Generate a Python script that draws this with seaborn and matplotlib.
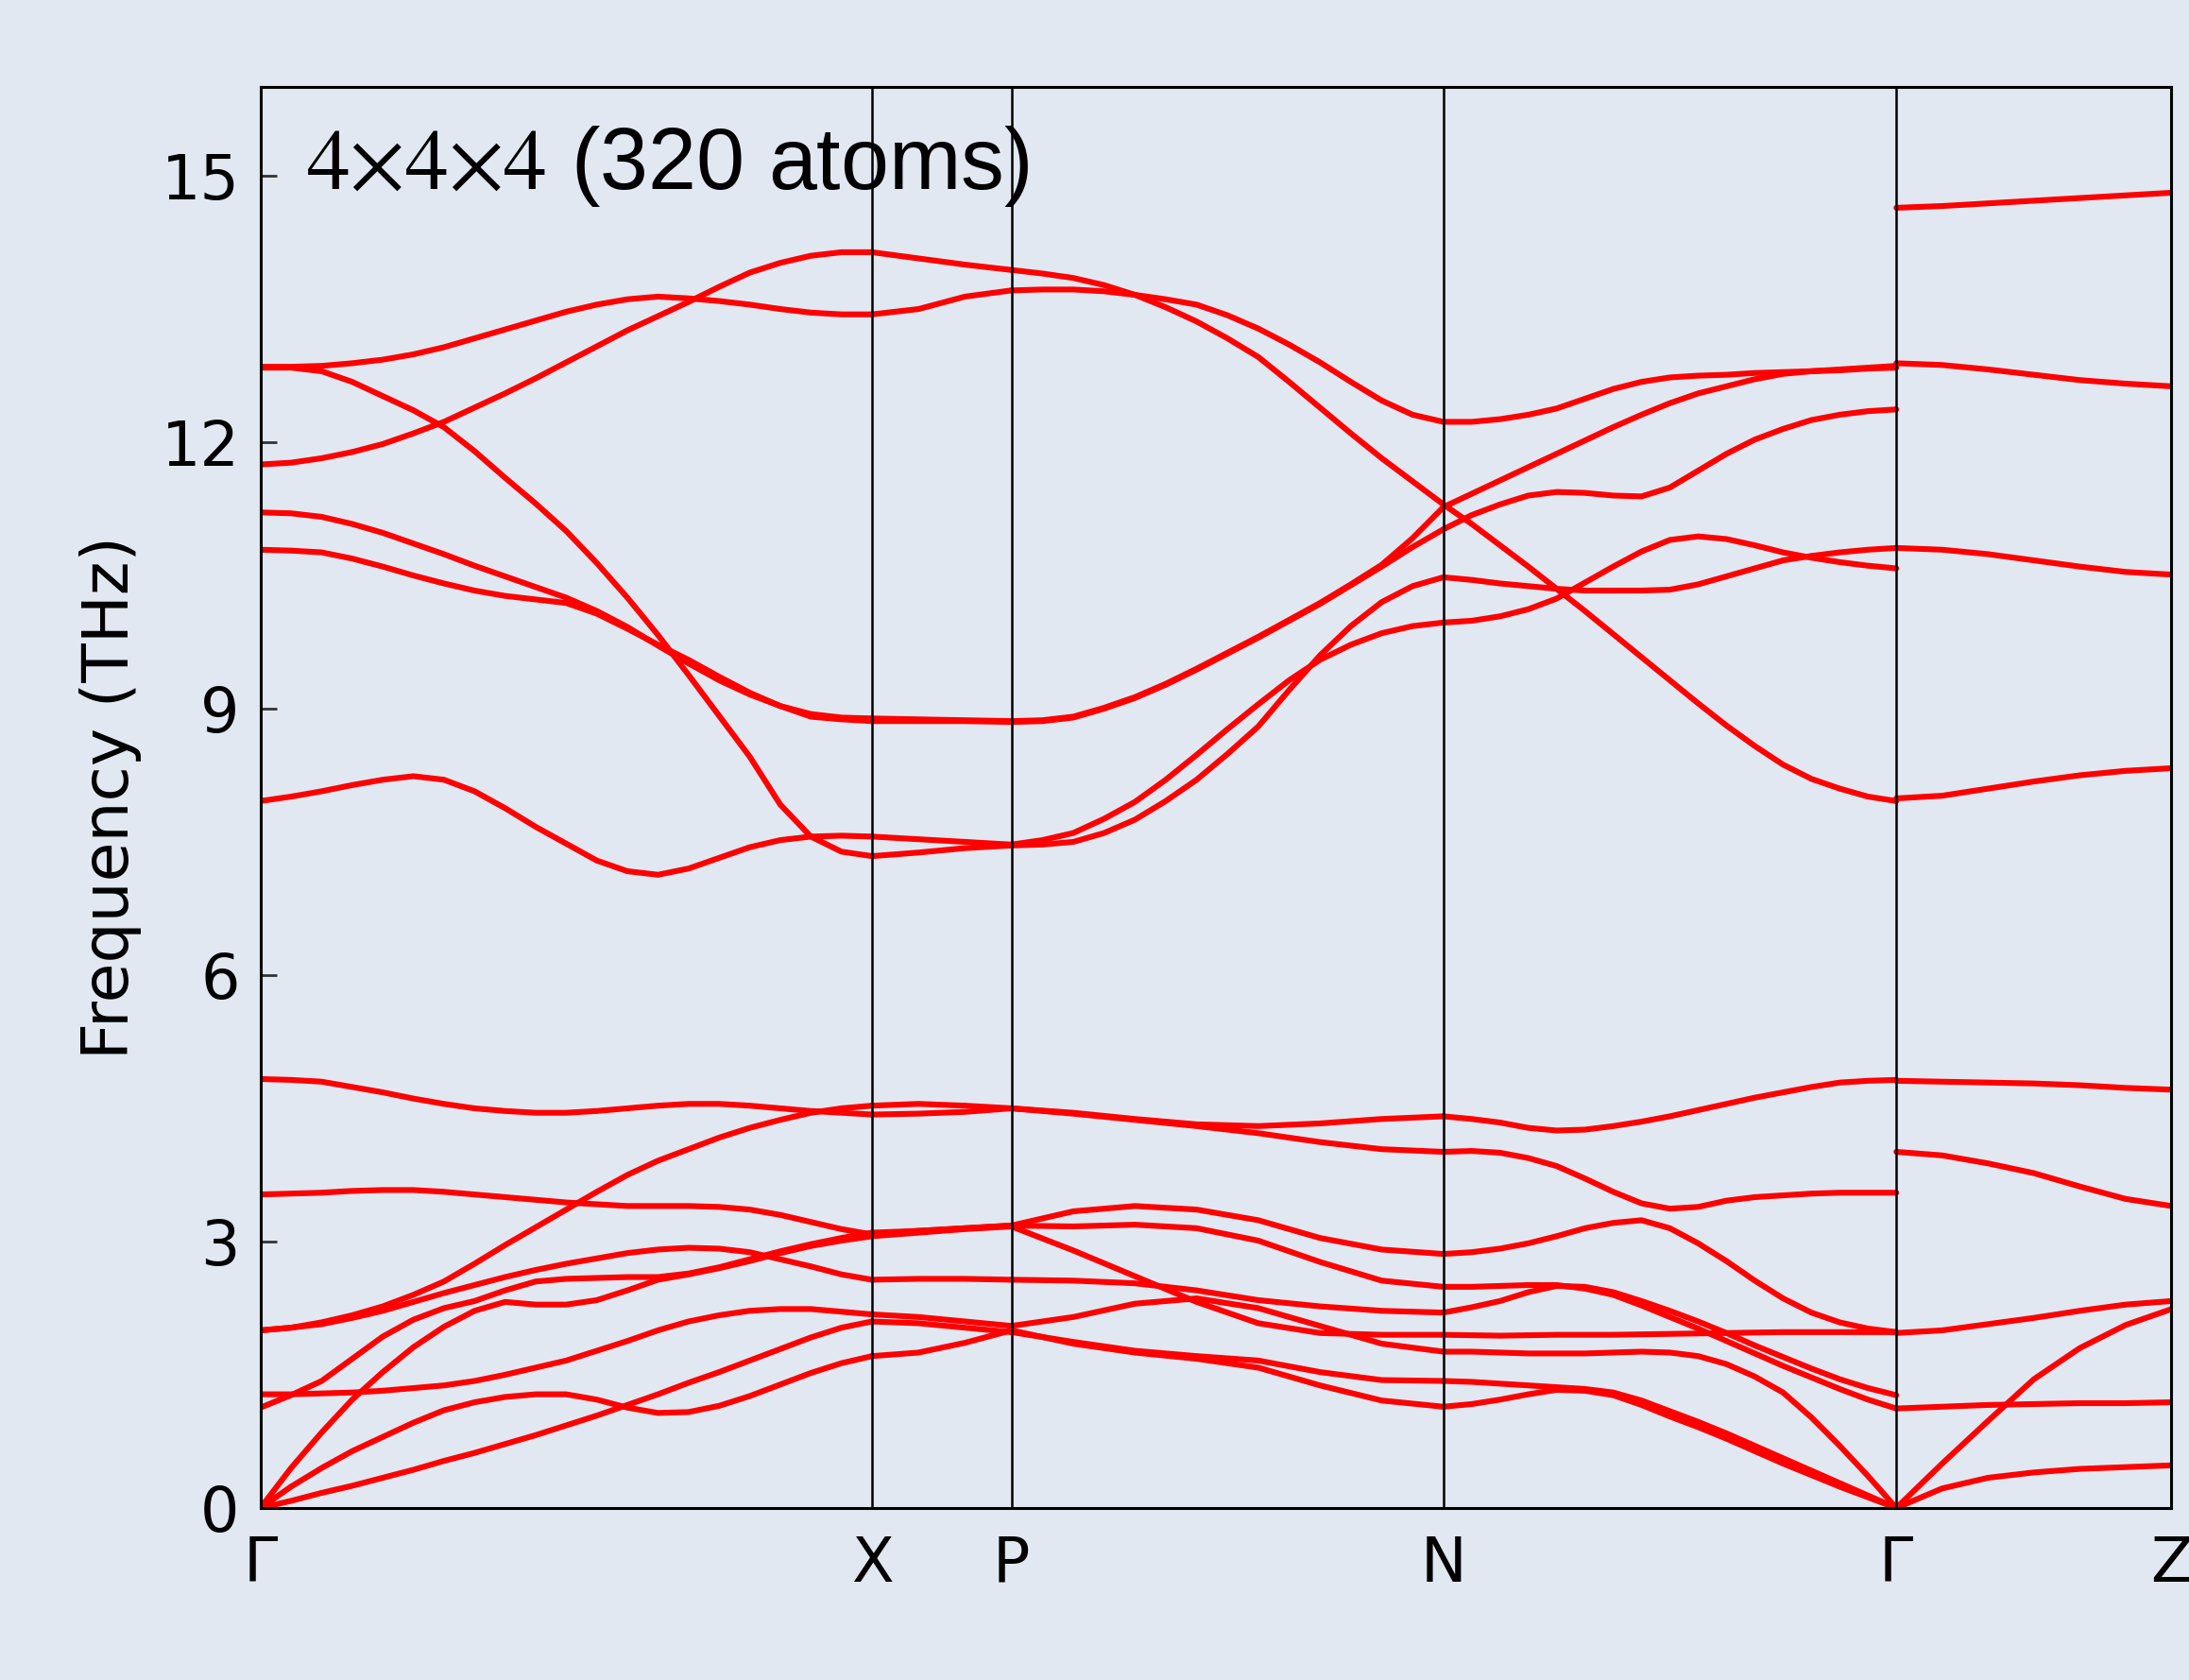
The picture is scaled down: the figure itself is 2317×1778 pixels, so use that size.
import numpy as np
import pandas as pd
import matplotlib
matplotlib.use("Agg")
import matplotlib.pyplot as plt
import seaborn as sns

# ---------------- data ----------------
kpath_labels = ["Γ", "X", "P", "N", "Γ", "Z"]
kpath_pos = [0.0, 0.320, 0.393, 0.619, 0.856, 1.0]
y_ticks = [0, 3, 6, 9, 12, 15]

# Γ - X (21 q-points, evenly spaced along the segment)
bands_GX = [
    [12.85, 12.85, 12.86, 12.89, 12.93, 12.99, 13.07, 13.17, 13.27, 13.37, 13.47,
     13.55, 13.61, 13.64, 13.62, 13.59, 13.55, 13.50, 13.46, 13.44, 13.44],
    [11.75, 11.77, 11.82, 11.89, 11.98, 12.10, 12.23, 12.39, 12.55, 12.72, 12.90,
     13.08, 13.26, 13.42, 13.58, 13.75, 13.91, 14.02, 14.10, 14.14, 14.14],
    [12.84, 12.84, 12.80, 12.68, 12.52, 12.36, 12.17, 11.90, 11.60, 11.31, 11.00,
     10.64, 10.25, 9.83, 9.38, 8.92, 8.46, 7.92, 7.56, 7.39, 7.34],
    [11.21, 11.20, 11.16, 11.08, 10.98, 10.86, 10.74, 10.61, 10.49, 10.37, 10.25,
     10.10, 9.92, 9.71, 9.51, 9.32, 9.16, 9.03, 8.94, 8.90, 8.89],
    [10.79, 10.78, 10.76, 10.69, 10.60, 10.50, 10.41, 10.33, 10.27, 10.23, 10.19,
     10.07, 9.90, 9.72, 9.55, 9.36, 9.18, 9.03, 8.91, 8.88, 8.86],
    [7.96, 8.01, 8.07, 8.14, 8.20, 8.24, 8.20, 8.07, 7.88, 7.67, 7.48,
     7.29, 7.17, 7.13, 7.20, 7.32, 7.44, 7.52, 7.56, 7.57, 7.56],
    [4.83, 4.82, 4.80, 4.74, 4.68, 4.61, 4.55, 4.50, 4.47, 4.45, 4.45,
     4.47, 4.50, 4.53, 4.55, 4.55, 4.53, 4.50, 4.47, 4.45, 4.43],
    [2.00, 2.03, 2.09, 2.17, 2.27, 2.40, 2.55, 2.75, 2.96, 3.16, 3.36,
     3.56, 3.75, 3.91, 4.04, 4.17, 4.28, 4.37, 4.45, 4.50, 4.53],
    [2.00, 2.03, 2.07, 2.14, 2.22, 2.32, 2.42, 2.51, 2.60, 2.68, 2.75,
     2.81, 2.87, 2.91, 2.93, 2.92, 2.88, 2.80, 2.72, 2.63, 2.57],
    [3.53, 3.54, 3.55, 3.57, 3.58, 3.58, 3.56, 3.53, 3.50, 3.47, 3.44,
     3.42, 3.40, 3.40, 3.40, 3.39, 3.36, 3.30, 3.22, 3.14, 3.08],
    [1.28, 1.28, 1.29, 1.30, 1.32, 1.35, 1.38, 1.43, 1.50, 1.58, 1.66,
     1.77, 1.88, 2.00, 2.10, 2.17, 2.22, 2.24, 2.24, 2.21, 2.18],
    [1.13, 1.27, 1.43, 1.68, 1.93, 2.12, 2.25, 2.33, 2.45, 2.55, 2.58,
     2.59, 2.60, 2.60, 2.64, 2.71, 2.80, 2.89, 2.97, 3.04, 3.10],
    [0.00, 0.08, 0.17, 0.25, 0.34, 0.43, 0.53, 0.62, 0.72, 0.82, 0.93,
     1.04, 1.16, 1.28, 1.41, 1.53, 1.66, 1.79, 1.92, 2.03, 2.10],
    [0.00, 0.24, 0.45, 0.64, 0.80, 0.96, 1.10, 1.19, 1.25, 1.28, 1.28,
     1.22, 1.13, 1.07, 1.08, 1.15, 1.26, 1.39, 1.52, 1.63, 1.71],
    [0.00, 0.45, 0.85, 1.22, 1.53, 1.81, 2.04, 2.22, 2.32, 2.29, 2.29,
     2.34, 2.45, 2.57, 2.63, 2.70, 2.78, 2.87, 2.95, 3.01, 3.06],
]

# X - P (4 q-points)
bands_XP = [
    [13.44, 13.50, 13.64, 13.71],
    [14.14, 14.07, 14.00, 13.94],
    [7.34, 7.38, 7.43, 7.46],
    [8.89, 8.88, 8.87, 8.86],
    [8.86, 8.86, 8.86, 8.85],
    [7.56, 7.53, 7.50, 7.47],
    [4.43, 4.44, 4.46, 4.50],
    [4.53, 4.55, 4.53, 4.50],
    [2.57, 2.58, 2.58, 2.57],
    [3.08, 3.12, 3.15, 3.18],
    [2.18, 2.15, 2.10, 2.05],
    [3.10, 3.12, 3.15, 3.18],
    [2.10, 2.08, 2.03, 1.98],
    [1.71, 1.75, 1.86, 2.00],
    [3.06, 3.10, 3.14, 3.17],
]

# P - N (upper bands 15 q-points, lower bands 8 q-points)
bands_PN = [
    [13.71, 13.72, 13.72, 13.70, 13.66, 13.61, 13.55, 13.43, 13.28, 13.10, 12.90, 12.68, 12.47, 12.31, 12.23],
    [13.94, 13.90, 13.85, 13.77, 13.66, 13.52, 13.36, 13.17, 12.96, 12.68, 12.39, 12.10, 11.82, 11.56, 11.30],
    [7.46, 7.47, 7.50, 7.60, 7.75, 7.96, 8.20, 8.49, 8.80, 9.21, 9.60, 9.93, 10.20, 10.38, 10.48],
    [8.86, 8.87, 8.91, 9.01, 9.13, 9.28, 9.45, 9.63, 9.81, 10.00, 10.19, 10.40, 10.62, 10.92, 11.27],
    [8.85, 8.86, 8.90, 9.00, 9.12, 9.27, 9.44, 9.62, 9.80, 9.99, 10.18, 10.39, 10.60, 10.82, 11.02],
    [7.47, 7.52, 7.60, 7.76, 7.95, 8.20, 8.48, 8.77, 9.05, 9.32, 9.55, 9.72, 9.85, 9.93, 9.97],
    [4.50, 4.44, 4.37, 4.30, 4.22, 4.12, 4.04, 4.01],
    [4.50, 4.45, 4.38, 4.32, 4.30, 4.33, 4.38, 4.41],
    [2.57, 2.56, 2.53, 2.45, 2.34, 2.27, 2.22, 2.20],
    [3.18, 3.34, 3.40, 3.36, 3.24, 3.04, 2.91, 2.86],
    [2.05, 2.15, 2.30, 2.36, 2.25, 2.05, 1.85, 1.76],
    [3.18, 3.17, 3.19, 3.15, 3.01, 2.77, 2.56, 2.49],
    [1.98, 1.87, 1.77, 1.71, 1.66, 1.53, 1.44, 1.43],
    [2.00, 1.85, 1.75, 1.68, 1.58, 1.38, 1.21, 1.14],
    [3.17, 2.90, 2.61, 2.32, 2.08, 1.97, 1.95, 1.95],
]

# N - Γ (17 q-points; flat band 9 q-points)
bands_NG = [
    [12.23, 12.23, 12.26, 12.31, 12.38, 12.49, 12.60, 12.68, 12.73, 12.75, 12.76, 12.78, 12.79, 12.80, 12.82, 12.84, 12.86],
    [11.30, 11.08, 10.84, 10.60, 10.35, 10.10, 9.84, 9.58, 9.32, 9.06, 8.81, 8.58, 8.37, 8.21, 8.10, 8.01, 7.96],
    [10.48, 10.45, 10.41, 10.38, 10.35, 10.33, 10.33, 10.33, 10.34, 10.40, 10.49, 10.58, 10.67, 10.72, 10.76, 10.79, 10.81],
    [11.27, 11.42, 11.57, 11.72, 11.87, 12.02, 12.17, 12.31, 12.44, 12.55, 12.63, 12.71, 12.77, 12.80, 12.81, 12.83, 12.84],
    [11.02, 11.18, 11.30, 11.40, 11.44, 11.43, 11.40, 11.39, 11.49, 11.68, 11.87, 12.03, 12.15, 12.25, 12.31, 12.35, 12.37],
    [9.97, 9.99, 10.04, 10.12, 10.24, 10.42, 10.60, 10.77, 10.90, 10.94, 10.91, 10.84, 10.76, 10.70, 10.65, 10.61, 10.58],
    [4.01, 4.02, 4.00, 3.94, 3.85, 3.71, 3.56, 3.43, 3.37, 3.39, 3.46, 3.50, 3.52, 3.54, 3.55, 3.55, 3.55],
    [4.41, 4.38, 4.34, 4.28, 4.25, 4.26, 4.30, 4.35, 4.41, 4.48, 4.55, 4.62, 4.68, 4.74, 4.79, 4.81, 4.82],
    [2.20, 2.26, 2.33, 2.43, 2.50, 2.49, 2.43, 2.33, 2.22, 2.10, 1.97, 1.83, 1.70, 1.57, 1.45, 1.35, 1.27],
    [2.86, 2.88, 2.92, 2.98, 3.06, 3.15, 3.21, 3.24, 3.15, 2.98, 2.78, 2.56, 2.36, 2.20, 2.09, 2.02, 1.98],
    [1.76, 1.76, 1.75, 1.74, 1.74, 1.74, 1.75, 1.76, 1.75, 1.71, 1.62, 1.48, 1.30, 1.02, 0.70, 0.36, 0.00],
    [2.49, 2.49, 2.50, 2.51, 2.51, 2.47, 2.40, 2.28, 2.15, 2.02, 1.88, 1.74, 1.60, 1.47, 1.34, 1.22, 1.12],
    [1.43, 1.42, 1.40, 1.38, 1.36, 1.34, 1.30, 1.21, 1.09, 0.97, 0.84, 0.70, 0.56, 0.42, 0.28, 0.14, 0.00],
    [1.14, 1.17, 1.22, 1.28, 1.33, 1.32, 1.27, 1.16, 1.03, 0.91, 0.78, 0.64, 0.50, 0.37, 0.24, 0.12, 0.00],
    [1.95, 1.94, 1.95, 1.95, 1.96, 1.97, 1.98, 1.98, 1.98],
]

# Γ - Z (7 q-points)
bands_GZ = [
    [14.64, 14.66, 14.69, 14.72, 14.75, 14.78, 14.81],
    [12.89, 12.87, 12.82, 12.76, 12.70, 12.66, 12.63],
    [10.81, 10.79, 10.74, 10.67, 10.60, 10.54, 10.51],
    [7.99, 8.02, 8.10, 8.18, 8.25, 8.30, 8.33],
    [4.81, 4.80, 4.79, 4.78, 4.76, 4.73, 4.71],
    [4.01, 3.97, 3.88, 3.77, 3.62, 3.48, 3.40],
    [1.97, 2.00, 2.07, 2.14, 2.22, 2.29, 2.33],
    [1.12, 1.14, 1.16, 1.17, 1.18, 1.18, 1.19],
    [0.00, 0.50, 0.98, 1.45, 1.80, 2.06, 2.24],
    [0.00, 0.22, 0.34, 0.40, 0.44, 0.46, 0.48],
]

title_text = r"$4{\times}4{\times}4$ (320 atoms)"

# ---------------- long-form table ----------------
segments = [bands_GX, bands_XP, bands_PN, bands_NG, bands_GZ]
rows = []
for si, bands in enumerate(segments):
    x0, x1 = kpath_pos[si], kpath_pos[si + 1]
    for bi, vals in enumerate(bands):
        xs = np.linspace(x0, x1, len(vals))
        for x, v in zip(xs, vals):
            rows.append((f"{si}-{bi}", x, v))
df = pd.DataFrame(rows, columns=["line", "q", "freq"])

# ---------------- style ----------------
bg = "#e1e8f1"
sns.set_theme(style="white")
plt.rcParams["font.family"] = ["DejaVu Sans"]
plt.rcParams["mathtext.fontset"] = "stix"
plt.rcParams["text.color"] = "black"
plt.rcParams["axes.labelcolor"] = "black"
plt.rcParams["xtick.color"] = "black"
plt.rcParams["ytick.color"] = "black"

fig = plt.figure(figsize=(2317 / 200, 1778 / 200), dpi=200, facecolor=bg)
ax = fig.add_axes([0.119, 0.1024, 0.873, 0.8458])
ax.set_facecolor(bg)

sns.lineplot(data=df, x="q", y="freq", units="line", estimator=None, sort=False,
             color="#ff0000", linewidth=2.2, ax=ax, legend=False, zorder=2)
for ln in ax.get_lines():
    ln.set_solid_joinstyle("round")

for xv in kpath_pos[1:-1]:
    ax.axvline(xv, color="black", linewidth=0.9, zorder=3)

ax.set_xlim(kpath_pos[0], kpath_pos[-1])
ax.set_ylim(0, 16)
ax.set_xticks(kpath_pos)
ax.set_xticklabels(kpath_labels)
ax.set_yticks(y_ticks)
ax.set_xlabel("")
ax.set_ylabel("Frequency (THz)", fontsize=24.5, labelpad=7.5)
ax.tick_params(axis="y", direction="in", length=6, width=1.0, color="#333333",
               labelsize=23.5, pad=8, left=True)
ax.tick_params(axis="x", length=0, labelsize=23.5, pad=10)
for s in ax.spines.values():
    s.set_color("black")
    s.set_linewidth(1.1)
    s.set_zorder(4)

ax.text(0.024, 0.928, title_text, transform=ax.transAxes, fontsize=33,
        family=["Liberation Sans", "DejaVu Sans"], color="black",
        ha="left", va="baseline", zorder=5)

fig.savefig("out.png", dpi=200, facecolor=bg)
